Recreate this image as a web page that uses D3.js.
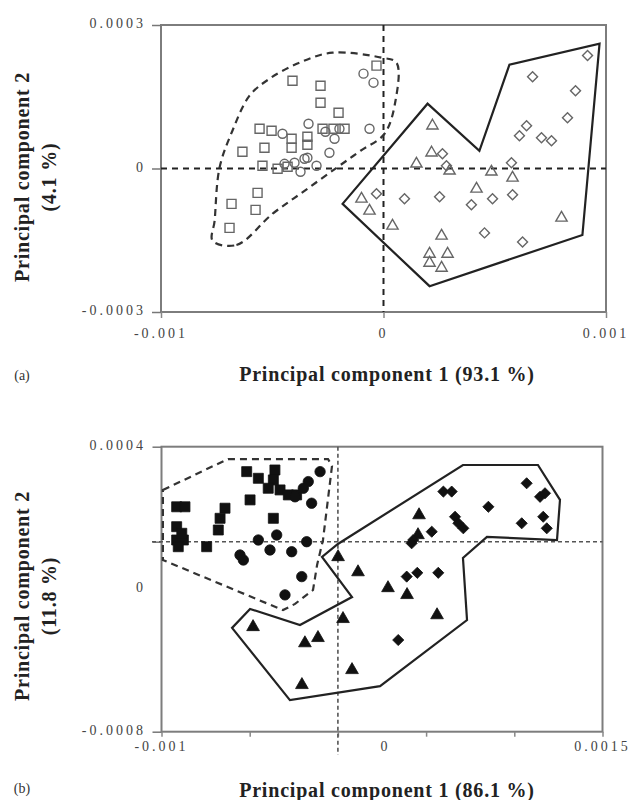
<!DOCTYPE html>
<html>
<head>
<meta charset="utf-8">
<script src="https://cdn.jsdelivr.net/npm/d3@7"></script>
<style>
  html, body { margin: 0; padding: 0; background: #fff; }
  svg { display: block; }
  .tick-label { font-family: "Liberation Serif", "Times New Roman", serif; font-size: 14px; fill: #444; letter-spacing: 3px; }
  .axis-title { font-family: "Liberation Serif", "Times New Roman", serif; font-size: 20px; font-weight: bold; fill: #222; letter-spacing: 0.8px; }
  .panel-tag { font-family: "Liberation Serif", "Times New Roman", serif; font-size: 14px; fill: #333; }
</style>
</head>
<body>
<svg id="chart" width="631" height="800"></svg>
<script>
// ---------- Panel (a): PCA scores, open markers ----------
const aSquaresX = [-0.000409,-0.000283,-0.000283,-0.000202,-0.0000315,-0.000557,-0.000503,-0.000535,-0.000634,-0.000225,-0.000175,-0.000342,-0.000342,-0.000413,-0.000413,-0.000544,-0.000476,-0.000566,-0.000575,-0.000683,-0.000692,-0.000431,-0.000274];
const aSquaresY = [0.0001836,0.0001731,0.0001375,0.0001166,0.000215,0.0000831,0.0000789,0.0000433,0.000035,0.0000831,0.0000831,0.0000664,0.0000496,0.0000622,0.0000433,0.0000057,-0.0000006,-0.0000509,-0.0000865,-0.0000739,-0.0001241,0.0000036,0.0000831];

const aCirclesX = [-0.0000899,-0.0000449,-0.000337,-0.0000629,-0.000243,-0.00022,-0.000355,-0.000301,-0.000373,-0.000445,-0.0004,-0.000454,-0.000198,-0.000342,-0.000261];
const aCirclesY = [0.0001983,0.0001794,0.0000936,0.0000831,0.0000329,0.0000622,0.0000203,0.0000057,-0.0000069,0.0000098,0.0000119,0.0000726,0.0000831,0.0000224,0.0000768];

const aTrianglesX = [0.00022,0.000216,0.000148,0.000297,0.000485,0.00058,0.000418,0.0008,0.0000404,0.000261,0.000207,0.000288,0.000207,0.000261,-0.0000989,-0.0000629];
const aTrianglesY = [0.0000894,0.0000329,0.0000098,-0.0000048,-0.0000069,-0.0000195,-0.0000425,-0.0001032,-0.00012,-0.0001409,-0.0001786,-0.0001786,-0.0001974,-0.0002079,-0.0000634,-0.0000886];

const aDiamondsX = [0.000917,0.00067,0.000863,0.000827,0.000643,0.000611,0.00071,0.000755,0.000265,0.000575,0.000283,0.0000944,0.000252,0.000395,0.00049,0.00058,0.000454,0.000625,-0.0000315];
const aDiamondsY = [0.000236,0.000192,0.0001627,0.0001061,0.0000894,0.0000685,0.0000643,0.000058,0.0000308,0.0000119,0.0000057,-0.0000634,-0.0000592,-0.000076,-0.0000634,-0.0000551,-0.0001346,-0.0001535,-0.000053];

// group outlines (a)
const aDashedHullX = [-0.000768,-0.000661,-0.000499,-0.000355,-0.000211,-0.000103,0.0000045,0.0000539,0.0000584,-0.000009,-0.000229,-0.000377,-0.000512,-0.000602,-0.000679,-0.000737,-0.000759];
const aDashedHullY = [-0.000151,-0.00016,-0.0000948,-0.0000467,0.0000015,0.0000371,0.0000726,0.0001417,0.0002213,0.0002317,0.0002422,0.0002213,0.0001878,0.0001522,0.0000789,0.0000015,-0.0001095];
const aSolidHullX = [-0.000184,0.000198,0.000431,0.000566,0.000971,0.000894,0.000207];
const aSolidHullY = [-0.0000739,0.0001355,0.0000371,0.000217,0.000261,-0.000139,-0.000246];

const aXTicks = [-0.001, 0, 0.001];
const aXTickLabels = ["-0.001", "0", "0.001"];
const aYTicks = [0.0003, 0, -0.0003];
const aYTickLabels = ["0.0003", "0", "-0.0003"];

// ---------- Panel (b): PCA scores, filled markers ----------
const bSquaresX = [-0.000517,-0.000451,-0.000357,-0.000366,-0.000395,-0.000328,-0.000281,-0.000234,-0.000498,-0.000366,-0.00064,-0.000668,-0.000678,-0.000744,-0.000914,-0.000867,-0.000914,-0.000914,-0.000876,-0.000905,-0.000885];
const bSquaresY = [0.000295,0.000267,0.000302,0.00026,0.000225,0.000218,0.000197,0.000197,0.000176,0.0000985,0.000141,0.0000985,0.0000493,-0.0000211,0.000147,0.000147,0.0000632,0.0000072,0.0000072,-0.0000211,0.0000354];

const bCirclesX = [-0.000101,-0.000168,-0.000196,-0.000243,-0.000149,-0.000347,-0.000451,-0.000385,-0.000262,-0.000177,-0.000555,-0.000536,-0.000205,-0.0003];
const bCirclesY = [0.000295,0.000253,0.000225,0.000189,0.000162,0.0000282,0.0000072,-0.0000349,-0.0000421,0,-0.000056,-0.000077,-0.000147,-0.000224];

const bTrianglesX = [0.000001,0.000114,0.000284,0.000392,0.000562,0.0000289,-0.000481,-0.000187,-0.000113,0.00008,-0.000204,0.00046,0.000454];
const bTrianglesY = [-0.0000644,-0.000128,-0.000195,-0.000224,-0.000309,-0.000325,-0.000359,-0.000427,-0.000405,-0.00054,-0.000603,0.000112,0.0000282];

const bDiamondsX = [0.000598,0.000645,0.000853,0.00107,0.001146,0.001174,0.001042,0.001164,0.001184,0.000664,0.000683,0.000711,0.000532,0.000427,0.000418,0.00039,0.00045,0.000569,0.000342];
const bDiamondsY = [0.000211,0.000211,0.000147,0.000246,0.000189,0.000204,0.0000775,0.000105,0.0000564,0.000105,0.0000775,0.0000564,0.0000421,0.0000072,-0.0000067,-0.000147,-0.000131,-0.000131,-0.000414];

// group outlines (b)
const bDashedHullX = [-0.000992,-0.000623,-0.000056,-0.0000334,-0.0000845,-0.000118,-0.000141,-0.000243,-0.000311,-0.000992];
const bDashedHullY = [0.000218,0.000348,0.000348,0.000319,0.0000072,-0.000098,-0.000203,-0.000262,-0.000288,-0.000077];
const bSolidHullX = [0.000709,0.001134,0.001259,0.001242,0.000845,0.000709,0.000732,0.000239,-0.000272,-0.0006,-0.000498,-0.000215,0.00008,-0.00009,0.0];
const bSolidHullY = [0.000323,0.000323,0.000176,0.000007,0.00002,-0.0000686,-0.00033,-0.000608,-0.000667,-0.000363,-0.000283,-0.000351,-0.000233,-0.0000644,-0.0000097];

const bXTicks = [-0.001, -0.0005, 0, 0.0005, 0.001, 0.0015];
const bXLabelAt = [-0.001, 0.00027, 0.0015];
const bXTickLabels = ["-0.001", "0", "0.0015"];
const bYTicks = [0.0004, 0, -0.0008];
const bYLabelAt = [0.0004, -0.0002, -0.0008];
const bYTickLabels = ["0.0004", "0", "-0.0008"];

const zip = (xs, ys) => xs.map((x, i) => [x, ys[i]]);
const svg = d3.select("#chart");

function drawPanel(cfg) {
  const g = svg.append("g");
  const x = d3.scaleLinear().domain(cfg.xDomain).range(cfg.xRange);
  const y = d3.scaleLinear().domain(cfg.yDomain).range(cfg.yRange);
  const [x0, x1] = cfg.xRange, [y1, y0] = cfg.yRange;

  // frame
  g.append("rect").attr("x", x0).attr("y", y0).attr("width", x1 - x0).attr("height", y1 - y0)
    .attr("fill", "none").attr("stroke", "#7d7d7d").attr("stroke-width", 2);

  // axes with tick marks only (labels are placed separately)
  g.append("g").attr("transform", `translate(0,${y1})`)
    .call(d3.axisBottom(x).tickValues(cfg.xTicks).tickSize(cfg.xTickSize).tickFormat(""))
    .call(s => s.select(".domain").remove())
    .call(s => s.selectAll("line").attr("stroke", "#888").attr("stroke-width", 1.5));
  g.append("g").attr("transform", `translate(${x0},0)`)
    .call(d3.axisLeft(y).tickValues(cfg.yTicks).tickSize(9).tickFormat(""))
    .call(s => s.select(".domain").remove())
    .call(s => s.selectAll("line").attr("stroke", "#777").attr("stroke-width", 1.5));

  // zero reference lines
  g.append("line").attr("x1", cfg.hLineFrom).attr("x2", x1).attr("y1", y(0)).attr("y2", y(0))
    .attr("stroke", cfg.refColor).attr("stroke-width", cfg.refWidth).attr("stroke-dasharray", cfg.refDash);
  g.append("line").attr("x1", x(0)).attr("x2", x(0)).attr("y1", y0).attr("y2", cfg.vLineTo)
    .attr("stroke", cfg.refColor).attr("stroke-width", cfg.refWidth).attr("stroke-dasharray", cfg.refDash);

  // tick labels
  g.selectAll(".xl").data(cfg.xLabelAt).join("text").attr("class", "tick-label")
    .attr("x", d => x(d)).attr("y", cfg.xLabelY).attr("text-anchor", "middle").attr("dominant-baseline", "middle")
    .text((d, i) => cfg.xLabels[i]);
  g.selectAll(".yl").data(cfg.yLabelAt).join("text").attr("class", "tick-label")
    .attr("x", 146).attr("y", d => y(d)).attr("text-anchor", "end").attr("dominant-baseline", "middle")
    .text((d, i) => cfg.yLabels[i]);

  // group outlines
  const hull = d3.line().x(d => x(d[0])).y(d => y(d[1]));
  g.append("path").datum(cfg.dashedHull)
    .attr("d", hull.curve(cfg.dashedCurve))
    .attr("fill", "none").attr("stroke", "#333").attr("stroke-width", 2.2).attr("stroke-dasharray", "7,5");
  g.append("path").datum(cfg.solidHull)
    .attr("d", hull.curve(d3.curveLinearClosed))
    .attr("fill", "none").attr("stroke", "#222").attr("stroke-width", 2.2).attr("stroke-linejoin", "miter");

  // markers
  const m = cfg.marker;
  const series = [
    { pts: cfg.squares, type: d3.symbolSquare, size: m.square, rot: 0 },
    { pts: cfg.circles, type: d3.symbolCircle, size: m.circle, rot: 0 },
    { pts: cfg.triangles, type: d3.symbolTriangle, size: m.triangle, rot: 0 },
    { pts: cfg.diamonds, type: d3.symbolSquare, size: m.diamond, rot: 45 }
  ];
  series.forEach(s => {
    g.append("g").selectAll("path").data(s.pts).join("path")
      .attr("d", d3.symbol().type(s.type).size(s.size)())
      .attr("transform", d => `translate(${x(d[0])},${y(d[1])}) rotate(${s.rot})`)
      .attr("fill", m.fill).attr("stroke", m.stroke).attr("stroke-width", m.strokeWidth);
  });

  // axis titles
  g.append("text").attr("class", "axis-title").attr("x", 387).attr("y", cfg.xTitleY)
    .attr("text-anchor", "middle").attr("dominant-baseline", "middle").text(cfg.xTitle);
  cfg.yTitle.forEach((t, i) => {
    g.append("text").attr("class", "axis-title")
      .attr("transform", `translate(${24 + i * 27},${cfg.yTitleCenter}) rotate(-90)`)
      .attr("text-anchor", "middle").attr("dominant-baseline", "middle").text(t);
  });
  g.append("text").attr("class", "panel-tag").attr("x", 22).attr("y", cfg.tagY)
    .attr("text-anchor", "middle").attr("dominant-baseline", "middle").text(cfg.tag);
}

drawPanel({
  xDomain: [-0.001, 0.001], xRange: [161, 606],
  yDomain: [-0.0003, 0.0003], yRange: [312, 25],
  xTicks: aXTicks, yTicks: aYTicks, xTickSize: 6,
  xLabelAt: aXTicks, xLabels: aXTickLabels, xLabelY: 335,
  yLabelAt: aYTicks, yLabels: aYTickLabels,
  hLineFrom: 161, vLineTo: 312,
  refColor: "#222", refWidth: 2, refDash: "6,5",
  dashedHull: zip(aDashedHullX, aDashedHullY), dashedCurve: d3.curveCatmullRomClosed.alpha(0.5),
  solidHull: zip(aSolidHullX, aSolidHullY),
  squares: zip(aSquaresX, aSquaresY), circles: zip(aCirclesX, aCirclesY),
  triangles: zip(aTrianglesX, aTrianglesY), diamonds: zip(aDiamondsX, aDiamondsY),
  marker: { fill: "none", stroke: "#666", strokeWidth: 1.4, square: 81, circle: 64, triangle: 55, diamond: 50 },
  xTitle: "Principal component 1 (93.1 %)", xTitleY: 376,
  yTitle: ["Principal component 2", "(4.1 %)"], yTitleCenter: 177,
  tag: "(a)", tagY: 377
});

drawPanel({
  xDomain: [-0.001, 0.0015], xRange: [161.5, 602.5],
  yDomain: [-0.0008, 0.0004], yRange: [731.7, 446.7],
  xTicks: bXTicks, yTicks: bYTicks, xTickSize: 5,
  xLabelAt: bXLabelAt, xLabels: bXTickLabels, xLabelY: 748,
  yLabelAt: bYLabelAt, yLabels: bYTickLabels,
  hLineFrom: 152, vLineTo: 755,
  refColor: "#555", refWidth: 1.6, refDash: "4,3",
  dashedHull: zip(bDashedHullX, bDashedHullY), dashedCurve: d3.curveLinearClosed,
  solidHull: zip(bSolidHullX, bSolidHullY),
  squares: zip(bSquaresX, bSquaresY), circles: zip(bCirclesX, bCirclesY),
  triangles: zip(bTrianglesX, bTrianglesY), diamonds: zip(bDiamondsX, bDiamondsY),
  marker: { fill: "#111", stroke: "#111", strokeWidth: 0.8, square: 100, circle: 85, triangle: 70, diamond: 62 },
  xTitle: "Principal component 1 (86.1 %)", xTitleY: 792,
  yTitle: ["Principal component 2", "(11.8 %)"], yTitleCenter: 596,
  tag: "(b)", tagY: 790
});
</script>
</body>
</html>
